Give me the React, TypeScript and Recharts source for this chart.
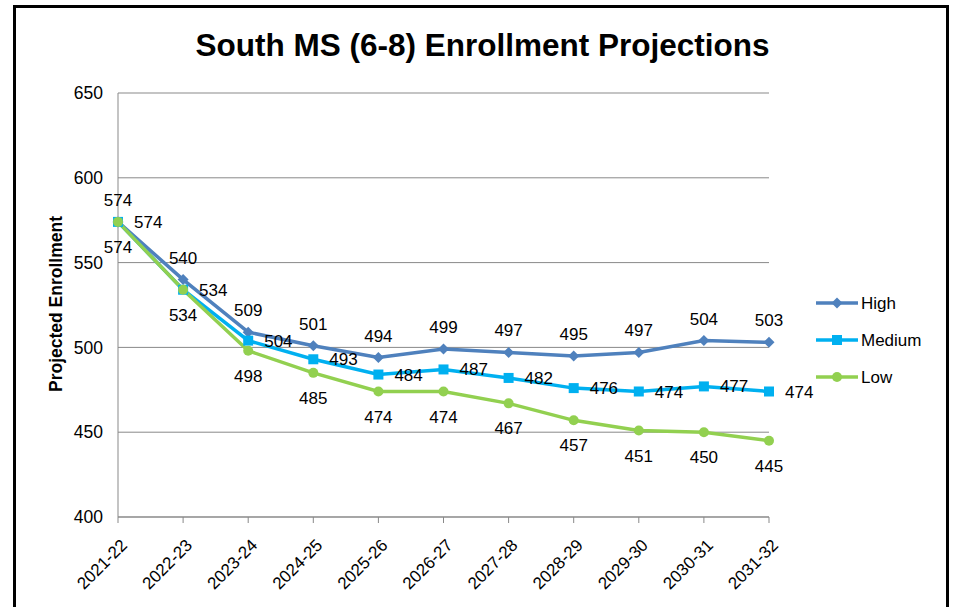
import React from "react"
import { LineChart, Line, XAxis, YAxis, CartesianGrid, LabelList } from "recharts"

// Values
const years = ["2021-22", "2022-23", "2023-24", "2024-25", "2025-26", "2026-27", "2027-28", "2028-29", "2029-30", "2030-31", "2031-32"]
const high = [574, 540, 509, 501, 494, 499, 497, 495, 497, 504, 503]
const medium = [574, 534, 504, 493, 484, 487, 482, 476, 474, 477, 474]
const low = [574, 534, 498, 485, 474, 474, 467, 457, 451, 450, 445]
const yTicks = [400, 450, 500, 550, 600, 650]

const data = years.map((year, i) => ({ year, high: high[i], medium: medium[i], low: low[i] }))

const FONT = "'Liberation Sans', Arial, sans-serif"
const HIGH = "#4F81BD"
const MEDIUM = "#00B0F0"
const LOW = "#92D050"

const Diamond = (props) => {
  const { cx, cy } = props
  if (cx == null || cy == null) return null
  return <polygon points={`${cx},${cy - 5.5} ${cx + 5.5},${cy} ${cx},${cy + 5.5} ${cx - 5.5},${cy}`} fill={HIGH} />
}

const Square = (props) => {
  const { cx, cy } = props
  if (cx == null || cy == null) return null
  return <rect x={cx - 5} y={cy - 5} width={10} height={10} fill={MEDIUM} />
}

const Circle = (props) => {
  const { cx, cy } = props
  if (cx == null || cy == null) return null
  return <circle cx={cx} cy={cy} r={5} fill={LOW} />
}

const YearTick = ({ x, y, payload }) => (
  <g transform={`translate(${x + 6},${y + 17})`}>
    <text transform="rotate(-45)" textAnchor="end" dy="0.35em" fontSize={17} fontFamily={FONT} fill="#000">
      {payload.value}
    </text>
  </g>
)

const legendItems = [
  { name: "High", color: HIGH, marker: "diamond" },
  { name: "Medium", color: MEDIUM, marker: "square" },
  { name: "Low", color: LOW, marker: "circle" },
]

const ChartLegend = () => (
  <svg width={125} height={100} style={{ position: "absolute", left: 814, top: 293 }}>
    {legendItems.map((item, i) => {
      const cy = 10 + i * 37
      return (
        <g key={item.name}>
          <line x1={2} x2={44} y1={cy} y2={cy} stroke={item.color} strokeWidth={3.5} />
          {item.marker === "diamond" && <polygon points={`23,${cy - 5.5} 28.5,${cy} 23,${cy + 5.5} 17.5,${cy}`} fill={item.color} />}
          {item.marker === "square" && <rect x={18} y={cy - 5} width={10} height={10} fill={item.color} />}
          {item.marker === "circle" && <circle cx={23} cy={cy} r={5} fill={item.color} />}
          <text x={47} y={cy} dy="0.35em" fontSize={17} fontFamily={FONT} fill="#000">
            {item.name}
          </text>
        </g>
      )
    })}
  </svg>
)

export default function App() {
  const labelStyle = { fontSize: 17, fontFamily: FONT, fill: "#000" }
  return (
    <div style={{ position: "absolute", left: 0, top: 0, width: 953, height: 607, background: "#fff", overflow: "hidden" }}>
      <div
        style={{
          position: "absolute",
          left: 13,
          top: 5,
          width: 930,
          height: 700,
          border: "3px solid #000",
          borderBottom: "none",
        }}
      />
      <div
        style={{
          position: "absolute",
          left: 0,
          width: 953,
          top: 27,
          textAlign: "center",
          paddingLeft: 12,
          boxSizing: "border-box",
          fontFamily: FONT,
          fontWeight: "bold",
          fontSize: 31.5,
          color: "#000",
        }}
      >
        South MS (6-8) Enrollment Projections
      </div>
      <div
        style={{
          position: "absolute",
          left: 56,
          top: 304,
          transform: "translate(-50%, -50%) rotate(-90deg)",
          whiteSpace: "nowrap",
          fontFamily: FONT,
          fontWeight: "bold",
          fontSize: 17.5,
          color: "#000",
        }}
      >
        Projected Enrollment
      </div>
      <div style={{ position: "absolute", left: 0, top: 0 }}>
        <LineChart width={953} height={607} data={data} margin={{ top: 93, right: 184, bottom: 0, left: 0 }}>
          <CartesianGrid vertical={false} stroke="#898989" strokeWidth={1} />
          <XAxis
            dataKey="year"
            height={90}
            interval={0}
            tick={<YearTick />}
            tickSize={6}
            tickLine={{ stroke: "#898989" }}
            axisLine={{ stroke: "#898989" }}
          />
          <YAxis
            domain={[400, 650]}
            ticks={yTicks}
            width={118}
            tickLine={false}
            tickMargin={9}
            axisLine={{ stroke: "#898989" }}
            tick={{ fontSize: 17.5, fontFamily: FONT, fill: "#000" }}
          />
          <Line dataKey="high" name="High" stroke={HIGH} strokeWidth={3.5} dot={<Diamond />} isAnimationActive={false}>
            <LabelList dataKey="high" position="top" offset={16} style={labelStyle} />
          </Line>
          <Line dataKey="medium" name="Medium" stroke={MEDIUM} strokeWidth={3.5} dot={<Square />} isAnimationActive={false}>
            <LabelList dataKey="medium" position="right" offset={16} style={labelStyle} />
          </Line>
          <Line dataKey="low" name="Low" stroke={LOW} strokeWidth={3.5} dot={<Circle />} isAnimationActive={false}>
            <LabelList dataKey="low" position="bottom" offset={19} style={labelStyle} />
          </Line>
        </LineChart>
      </div>
      <ChartLegend />
    </div>
  )
}
